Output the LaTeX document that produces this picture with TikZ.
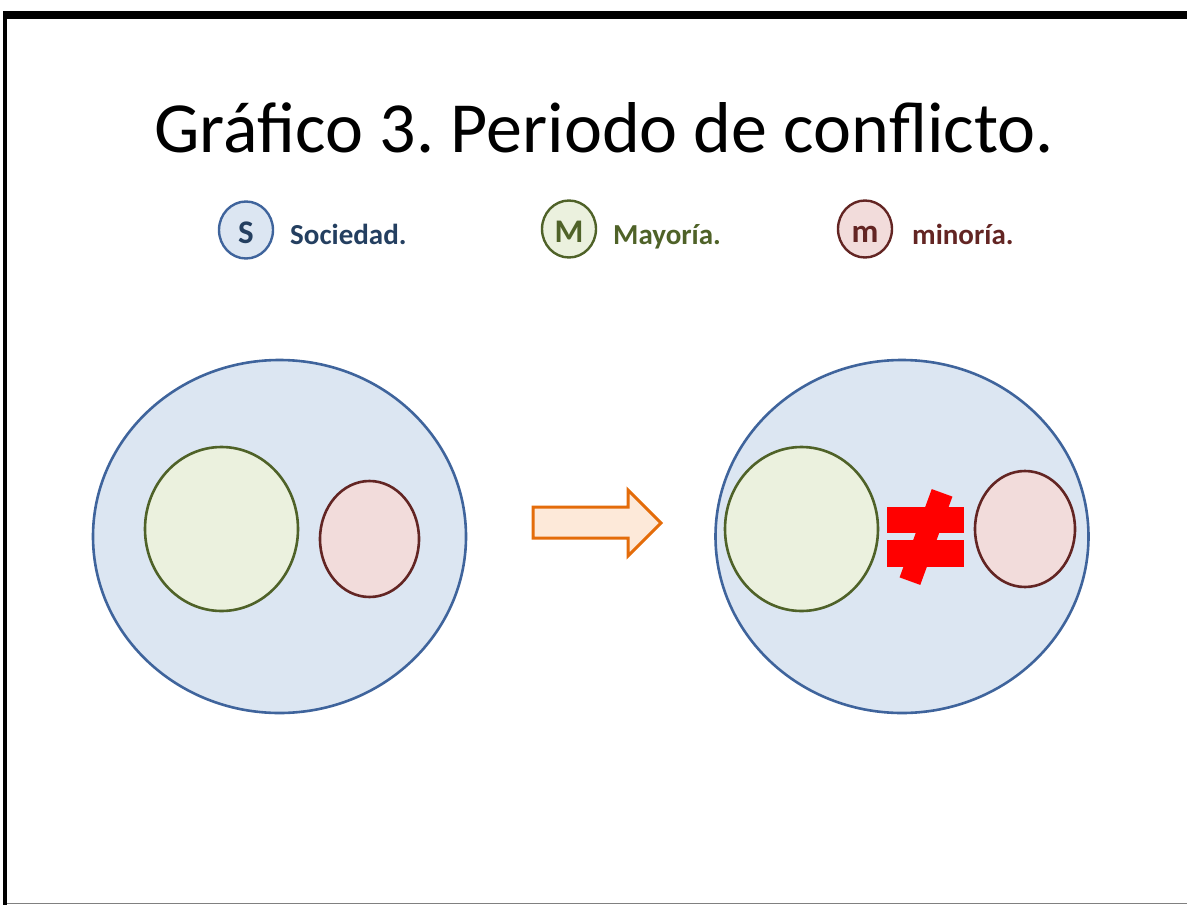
\documentclass[tikz,border=0pt]{standalone}
\usepackage{fontspec}
\setmainfont{Carlito}
\usetikzlibrary{shapes.geometric}
\definecolor{socfill}{HTML}{DCE6F2}
\definecolor{socline}{HTML}{3F649C}
\definecolor{soctext}{HTML}{243F60}
\definecolor{mayfill}{HTML}{EBF1DE}
\definecolor{mayline}{HTML}{4F6228}
\definecolor{minfill}{HTML}{F2DCDB}
\definecolor{minline}{HTML}{632523}
\definecolor{arrfill}{HTML}{FDE9D9}
\definecolor{arrline}{HTML}{E46C0A}

\begin{document}
\begin{tikzpicture}[x=1pt,y=-1pt,
    blob/.style={ellipse,inner sep=0pt,line width=2.6pt},
    soc/.style={blob,draw=socline,fill=socfill},
    may/.style={blob,draw=mayline,fill=mayfill},
    mino/.style={blob,draw=minline,fill=minfill},
    keyball/.style={blob,line width=2.4pt,minimum width=54pt,minimum height=57pt,
        text height=26pt,text depth=0pt,font=\fontsize{33}{36}\selectfont\bfseries},
    keytext/.style={anchor=base west,inner sep=0pt,font=\fontsize{29}{33}\selectfont\bfseries}]
        \useasboundingbox (0,0) rectangle (1187,905);
        \fill[black] (3,11) rectangle (1187,19);
        \fill[black] (3,11) rectangle (7,905);
        \draw[gray,line width=1.5pt] (7,903.5) -- (1187,903.5);
        \node[anchor=base west,font=\fontsize{72}{80}\selectfont] (title) at (151,152) {\frenchspacing Gráfico 3. Periodo de conflicto.};
        \node[soc,keyball,text=soctext] (keyS) at (246,230) {S};
        \node[keytext,text=soctext] (keySt) at (290,244) {Sociedad.};
        \node[may,keyball,text=mayline] (keyM) at (569,229) {M};
        \node[keytext,text=mayline] (keyMt) at (613,244) {Mayoría.};
        \node[mino,keyball,text=minline] (keym) at (865,229) {m};
        \node[keytext,text=minline] (keymt) at (912,244) {minoría.};
        \node[soc,minimum width=373pt,minimum height=353pt] (socL) at (279.5,536.5) {};
        \node[may,minimum width=153pt,minimum height=164pt] (mayL) at (221.5,529) {};
        \node[mino,minimum width=99pt,minimum height=116pt] (minL) at (369.5,539) {};
        \filldraw[fill=arrfill,draw=arrline,line width=3pt,line join=miter]
            (533,507) -- (628,507) -- (628,490) -- (661,523) -- (628,556) -- (628,538) -- (533,538) -- cycle;
        \node[soc,minimum width=373pt,minimum height=353pt] (socR) at (902,536.5) {};
        \node[may,minimum width=153pt,minimum height=164pt] (mayR) at (801.5,529) {};
        \node[mino,minimum width=100pt,minimum height=116pt] (minR) at (1025,529) {};
        \fill[red] (887,507) rectangle (964,533);
        \fill[red] (887,540) rectangle (964,567);
        \fill[red,rotate around={-20:(926,537)}] (915,490) rectangle (937,584);
    \end{tikzpicture}
\end{document}
